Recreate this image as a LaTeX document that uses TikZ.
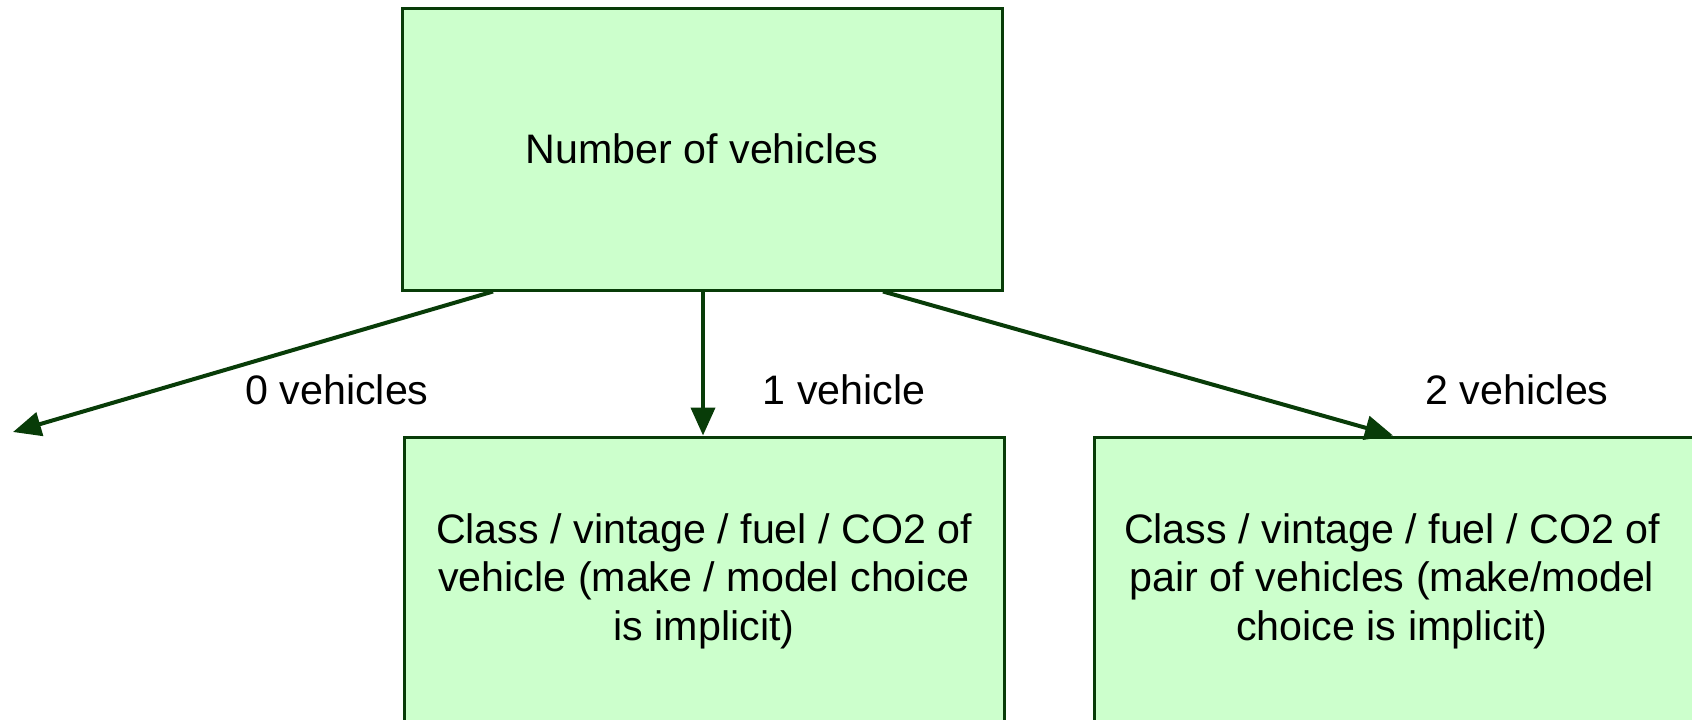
\documentclass[tikz,border=0pt]{standalone}
\usepackage{fontspec}
\setmainfont{Liberation Sans}
\usetikzlibrary{arrows.meta,calc}
\definecolor{boxfill}{RGB}{204,255,204}
\definecolor{dkgreen}{RGB}{8,60,8}
\begin{document}
\begin{tikzpicture}[x=0.5pt,y=-0.5pt,
  box/.style={draw=dkgreen, fill=boxfill, line width=1.5pt, minimum width=300pt,
    inner sep=0pt, align=center, font=\fontsize{20.6}{24.2}\selectfont},
  conn/.style={draw=dkgreen, line width=2pt, -{Triangle[length=14pt,width=12pt]}},
  lbl/.style={font=\fontsize{20.6}{24.2}\selectfont, inner sep=0pt}]
\useasboundingbox (0,0) rectangle (1692,719);
\node[box, minimum height=141pt] (top) at (702,149) {Number of vehicles};
\node[box, minimum height=144pt] (one) at (704,581)
  {Class / vintage / fuel / CO2 of\\vehicle (make / model choice\\is implicit)};
\node[box, minimum height=144pt, minimum width=310pt,
  label={[align=center, inner sep=0pt, xshift=-6pt, font=\fontsize{20.6}{24.2}\selectfont]center:{Class / vintage / fuel / CO2 of\\pair of vehicles (make/model\\choice is implicit)}}]
  (two) at (1404,581) {};
\coordinate (zero) at (13,432);
\draw[conn] ($(top.south)+(-209,0)$) -- (zero);
\draw[conn] ($(top.south)+(1,0)$) -- ($(one.north)+(-1,0)$);
\draw[conn] ($(top.south)+(181,0)$) -- ($(two.north)+(-11,0)$);
\node[lbl] (l0) at (337,390) {0 vehicles};
\node[lbl] (l1) at (844,390) {1 vehicle};
\node[lbl] (l2) at (1517,390) {2 vehicles};
\end{tikzpicture}
\end{document}
